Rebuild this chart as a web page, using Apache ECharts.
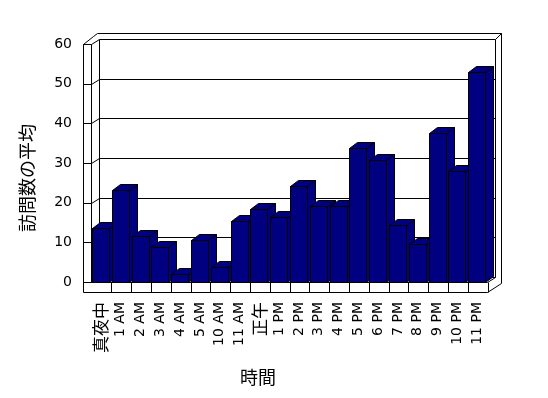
<!DOCTYPE html>
<html>
<head>
<meta charset="utf-8">
<script src="https://cdn.jsdelivr.net/npm/echarts@6/dist/echarts.min.js"></script>
<style>
html, body { margin: 0; padding: 0; background: #fff; }
#chart { width: 548px; height: 398px; }
</style>
</head>
<body>
<div id="chart"></div>
<script>
// 時間帯ごとの訪問数の平均
var hours = ['真夜中', '1 AM', '2 AM', '3 AM', '4 AM', '5 AM', '10 AM', '11 AM', '正午',
    '1 PM', '2 PM', '3 PM', '4 PM', '5 PM', '6 PM', '7 PM', '8 PM', '9 PM', '10 PM', '11 PM'];
var visits = [13.5, 23.2, 11.6, 8.7, 2.0, 10.6, 3.7, 15.4, 18.3, 16.3,
    24.2, 19.2, 19.2, 33.7, 30.8, 14.4, 9.6, 37.5, 28.0, 53.0];
var yTicks = [0, 10, 20, 30, 40, 50, 60];
var xName = '時間';
var yName = '訪問数の平均';

var DX = 8, WALL_DY = -5, BAR_DY = -6, BAR_W = 17;
var FILL = '#000080';
var FONT = '"DejaVu Sans", "Noto Sans CJK JP"';

function px(v) { return Math.round(v) + 0.5; }

function renderWalls(params, api) {
    var band = api.size([1, 0])[0];
    var xl = px(api.coord([0, 0])[0] - band / 2);
    var xr = px(api.coord([hours.length - 1, 0])[0] + band / 2);
    var yb = px(api.coord([0, 0])[1]);
    var yt = px(api.coord([0, yTicks[yTicks.length - 1]])[1]);
    var ls = { stroke: '#000', lineWidth: 1, fill: null };
    var kids = [];
    function line(x1, y1, x2, y2) {
        kids.push({ type: 'line', shape: { x1: x1, y1: y1, x2: x2, y2: y2 }, style: ls });
    }
    // back wall + grid lines
    yTicks.forEach(function (v) {
        var y = px(api.coord([0, v])[1]);
        line(xl + DX, y + WALL_DY, xr + DX, y + WALL_DY);
        // side wall ticks
        line(xl - DX, y, xl, y);
        line(xl, y, xl + DX, y + WALL_DY);
    });
    line(xl + DX, yt + WALL_DY, xl + DX, yb + WALL_DY);
    line(xr + DX, yt + WALL_DY, xr + DX, yb + WALL_DY);
    // side wall
    line(xl - DX, yt, xl - DX, yb + 10);
    line(xl, yt, xl, yb);
    // outer edge of walls
    kids.push({
        type: 'polyline',
        shape: { points: [[xl - DX, yt], [xl + 2, yt - 8], [xl + 6, yt - 11], [xr + 14, yt - 11], [xr + 14, yb + 1], [xr, yb + 10]] },
        style: ls
    });
    line(xr + DX, yt + WALL_DY, xr + 14, yt - 11);
    // floor
    line(xl, yb, xr, yb);
    line(xl - DX, yb + 10, xr, yb + 10);
    line(xr, yb, xr + DX, yb + WALL_DY);
    for (var k = 1; k <= hours.length; k++) {
        var x = px(xl + k * band);
        line(x, yb, x, yb + 10);
    }
    return { type: 'group', children: kids };
}

function renderBar(params, api) {
    var i = api.value(0), v = api.value(1);
    var top = api.coord([i, v]);
    var base = api.coord([i, 0]);
    var x0 = px(top[0] - 9), x1 = x0 + BAR_W;
    var y0 = px(base[1]), y1 = px(top[1]);
    var st = { fill: FILL, stroke: '#000', lineWidth: 1 };
    return {
        type: 'group',
        children: [
            { type: 'polygon', shape: { points: [[x1, y0], [x1 + DX, y0 + BAR_DY], [x1 + DX, y1 + BAR_DY], [x1, y1]] }, style: st },
            { type: 'polygon', shape: { points: [[x0, y1], [x0 + DX, y1 + BAR_DY], [x1 + DX, y1 + BAR_DY], [x1, y1]] }, style: st },
            { type: 'rect', shape: { x: x0, y: y1, width: BAR_W, height: y0 - y1 }, style: st }
        ]
    };
}

var chart = echarts.init(document.getElementById('chart'));
chart.setOption({
    animation: false,
    backgroundColor: '#fff',
    grid: { left: 91, right: 61, top: 44, bottom: 116 },
    xAxis: {
        type: 'category',
        data: hours,
        axisLine: { show: false },
        axisTick: { show: false },
        axisLabel: {
            rotate: 90, margin: 20, interval: 0, color: '#000', fontSize: 14, fontFamily: FONT,
            formatter: function (s) { return /[A-Z0-9]/.test(s) ? s : '{j|' + s + '}'; },
            rich: { j: { fontSize: 17, fontFamily: '"Noto Sans CJK JP"', color: '#000' } }
        }
    },
    yAxis: {
        type: 'value',
        min: 0, max: 60, interval: 10,
        axisLine: { show: false },
        axisTick: { show: false },
        splitLine: { show: false },
        axisLabel: { margin: 19, color: '#000', fontSize: 14, fontFamily: FONT }
    },
    graphic: [
        { type: 'text', x: 258, y: 377, style: { text: xName, font: '18px "Noto Sans CJK JP"', fill: '#000', align: 'center', verticalAlign: 'middle' } },
        { type: 'text', x: 27, y: 178, rotation: Math.PI / 2, style: { text: yName, font: '18px "Noto Sans CJK JP"', fill: '#000', align: 'center', verticalAlign: 'middle' } }
    ],
    series: [
        { type: 'custom', clip: false, silent: true, data: [[0, 0]], encode: { x: 0, y: 1 }, renderItem: renderWalls },
        { type: 'custom', clip: false, data: visits.map(function (v, i) { return [i, v]; }), encode: { x: 0, y: 1 }, renderItem: renderBar }
    ]
});
</script>
</body>
</html>
